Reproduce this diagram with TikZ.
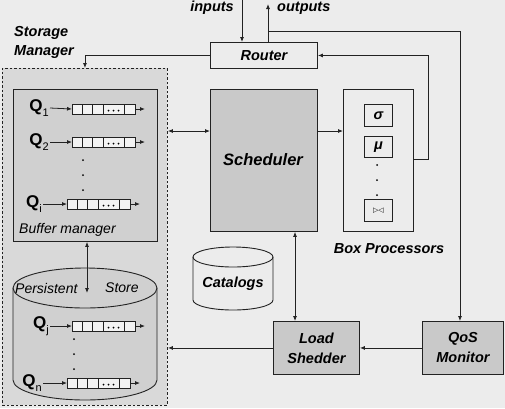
\documentclass[tikz,border=0pt]{standalone}
\usepackage{fontspec}
\setmainfont{Liberation Sans}
\newfontfamily\djv{DejaVu Sans}
\usetikzlibrary{arrows.meta}
\definecolor{bgc}{HTML}{ECECEC}
\definecolor{smc}{HTML}{D9D9D9}
\definecolor{bmc}{HTML}{D0D0D0}
\definecolor{shc}{HTML}{C9C9C9}
\definecolor{cellc}{HTML}{F3F3F3}
\definecolor{lnc}{HTML}{222222}
\tikzset{
  lbl/.style={font=\fontsize{14.5}{19}\selectfont\bfseries\itshape, text=black, inner sep=0pt},
  lblit/.style={font=\fontsize{14}{17}\selectfont\itshape, text=black, inner sep=0pt},
  boxn/.style={draw=lnc, line width=0.9pt, inner sep=0pt, anchor=north west},
  arr/.style={draw=lnc, line width=0.8pt, -{Latex[length=5pt,width=4pt]}},
  darr/.style={draw=lnc, line width=0.8pt, {Latex[length=5pt,width=4pt]}-{Latex[length=5pt,width=4pt]}},
  ln/.style={draw=lnc, line width=0.8pt},
  qcell/.style={draw=lnc, line width=0.7pt, fill=cellc, inner sep=0pt, minimum width=63pt, minimum height=10pt, anchor=west},
  qlab/.style={text=black, inner sep=1pt, anchor=east},
}
\newcommand\myqueue[3]{%
  \node[qcell] (#1) at (#2,#3) {};
  \draw[lnc, line width=0.6pt] (#2+10,#3-5) -- (#2+10,#3+5);
  \draw[lnc, line width=0.6pt] (#2+20.5,#3-5) -- (#2+20.5,#3+5);
  \draw[lnc, line width=0.6pt] (#2+31,#3-5) -- (#2+31,#3+5);
  \draw[lnc, line width=0.6pt] (#2+52,#3-5) -- (#2+52,#3+5);
  \fill[black] (#2+36.5,#3+1.5) circle (1) (#2+41.5,#3+1.5) circle (1) (#2+46.5,#3+1.5) circle (1);
  \coordinate (#1o) at (#2+73,#3);
  \draw[arr] (#1.east) -- (#1o);
}
\newcommand\qlabel[4]{% name, x(east), y, subscript
  \node[qlab] (#1) at (#2,#3) {\fontsize{17}{17}\selectfont\bfseries Q\raisebox{-5pt}{\fontsize{11}{11}\selectfont\mdseries #4}};
}
\begin{document}
\begin{tikzpicture}[x=1pt,y=-1pt]
\fill[bgc] (0,0) rectangle (505,408);
\useasboundingbox (0,0) rectangle (505,408);

% Storage manager
\node[boxn, fill=smc, dashed, dash pattern=on 2.5pt off 2pt, minimum width=165pt, minimum height=337pt] (sm) at (2,68) {};
\node[lbl, anchor=west, align=left] (smlab) at (14,42.5) {Storage\\Manager};

% Buffer manager
\node[boxn, fill=bmc, minimum width=144pt, minimum height=152pt] (bm) at (13,89) {};
\node[lblit, anchor=west] (bmlab) at (19,230) {Buffer manager};

\qlabel{q1}{50}{108}{1}
\myqueue{qa}{72}{109}
\draw[arr] (q1.east) -- (qa.west);
\qlabel{q2}{50}{142}{2}
\myqueue{qb}{72}{142}
\draw[arr] (q2.east) -- (qb.west);
\fill[black] (83,160) circle (1) (83,175) circle (1) (83,190) circle (1);
\qlabel{qi}{43}{204}{i}
\myqueue{qc}{67}{204}
\draw[arr] (qi.east) -- (qc.west);

% Persistent store cylinder
\node[draw=none, minimum width=144pt, minimum height=132pt, inner sep=0pt, anchor=north west] (ps) at (13,268) {};
\filldraw[fill=bmc, draw=lnc, line width=0.9pt] (13,288) -- (13,380) arc[start angle=180, end angle=360, x radius=72, y radius=-20] -- (157,288) arc[start angle=0, end angle=180, x radius=72, y radius=-20] -- cycle;
\draw[lnc, line width=0.9pt] (13,288) arc[start angle=180, end angle=360, x radius=72, y radius=-20];
\node[lblit, anchor=west] (pslab) at (15,288) {Persistent};
\node[lblit, anchor=west] (pslab2) at (105,288) {Store};
\coordinate (pstop) at (87,293);
\draw[darr] (bm.south -| pstop) -- (pstop);

\qlabel{qj}{50}{326}{j}
\myqueue{qd}{72}{326}
\draw[arr] (qj.east) -- (qd.west);
\fill[black] (74,339) circle (1) (74,354) circle (1) (74,369) circle (1);
\qlabel{qn}{43}{383}{n}
\myqueue{qe}{67}{383}
\draw[arr] (qn.east) -- (qe.west);

% Router
\node[boxn, minimum width=107pt, minimum height=26pt] (router) at (210,42) {};
\node[lbl] (routerlab) at (router.center) {Router};
\coordinate (inp) at (242,0);
\coordinate (outp) at (268,4);
\draw[arr] (inp) -- (inp |- router.north);
\draw[arr] (router.north -| outp) -- (outp);
\node[lbl, anchor=east] (inlab) at (234,8) {inputs};
\node[lbl, anchor=west] (outlab) at (277,8) {outputs};

% Scheduler
\node[boxn, fill=shc, minimum width=107pt, minimum height=142pt] (sched) at (210,89) {};
\node[lbl, font=\fontsize{16.5}{19}\selectfont\bfseries\itshape] (schedlab) at (263,160) {Scheduler};

% Box processors
\node[boxn, fill=bgc, minimum width=70pt, minimum height=142pt] (bp) at (343,89) {};
\node[boxn, fill=bgc, minimum width=28pt, minimum height=22pt] (sig) at (364,104) {};
\node[lbl] at (sig.center) {σ};
\node[boxn, fill=bgc, minimum width=28pt, minimum height=21pt] (mu) at (364,136) {};
\node[lbl] at (mu.center) {μ};
\fill[black] (377,165) circle (1) (377,180) circle (1) (377,195) circle (1);
\node[boxn, fill=bgc, minimum width=28pt, minimum height=22pt] (bow) at (364,199) {};
\node[text=black, inner sep=0pt, font=\djv\fontsize{7}{7}\selectfont] at (bow.center) {▷◁};
\node[lbl] (bplab) at (389,249) {Box Processors};

% Catalogs
\node[draw=none, minimum width=80pt, minimum height=63pt, inner sep=0pt, anchor=north west] (cat) at (193,247) {};
\filldraw[fill=bgc, draw=lnc, line width=0.9pt] (193,257) -- (193,300) arc[start angle=180, end angle=360, x radius=40, y radius=-10] -- (273,257) arc[start angle=0, end angle=180, x radius=40, y radius=-10] -- cycle;
\draw[lnc, line width=0.9pt] (193,257) arc[start angle=180, end angle=360, x radius=40, y radius=-10];
\node[lbl] (catlab) at (233,284) {Catalogs};

% Load shedder and QoS monitor
\node[boxn, fill=shc, minimum width=86pt, minimum height=53pt] (ls) at (273,321) {};
\node[lbl, align=center, font=\fontsize{14.5}{20}\selectfont\bfseries\itshape] at (ls.center) {Load\\Shedder};
\node[boxn, fill=shc, minimum width=81pt, minimum height=53pt] (qos) at (422,321) {};
\node[lbl, align=center, font=\fontsize{14.5}{20}\selectfont\bfseries\itshape] at (qos.center) {QoS\\Monitor};

% Connectors
\coordinate (r131) at (0,131);
\coordinate (x295) at (295,0);
\coordinate (oj) at (268,31);
\coordinate (fb) at (428,159);
\draw[arr] (router.west) -| (sm.north);
\draw[darr] (sm.east |- r131) -- (sched.west |- r131);
\draw[arr] (sched.east |- r131) -- (bp.west |- r131);
\draw[arr] (bp.east |- fb) -- (fb) |- (router.east);
\draw[arr] (oj) -| ([xshift=-3pt]qos.north);
\draw[darr] (sched.south -| x295) -- (ls.north -| x295);
\draw[arr] (qos.west) -- (ls.east);
\draw[arr] (ls.west) -- (sm.east |- ls.west);
\end{tikzpicture}
\end{document}
